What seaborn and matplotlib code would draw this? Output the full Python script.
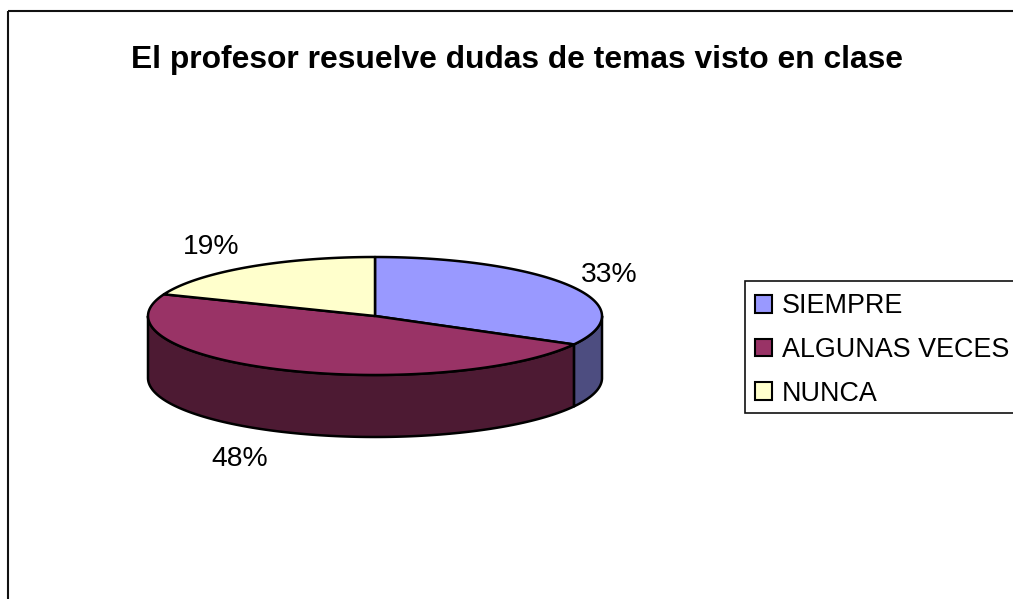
#%%
import numpy as np                           # for the ellipse arcs.
import seaborn as sns                        # for theme and palette.
import matplotlib
matplotlib.use("Agg")
import matplotlib.pyplot as plt
from matplotlib.patches import Patch, Rectangle

sns.set_theme(style = "white")
plt.rcParams['font.family'] = ['Liberation Sans', 'DejaVu Sans']

#%%
# The chart data.
title = "El profesor resuelve dudas de temas visto en clase"
categories = ["SIEMPRE", "ALGUNAS VECES", "NUNCA"]
values = [33, 48, 19]
top_colors = sns.color_palette(["#9999FF", "#993366", "#FFFFCC"])
side_colors = sns.color_palette(["#4D4D80", "#4D1A33", "#808066"])

#%%
# Layout in pixels of the 1013x599 picture.
cx, cy = 375, 316      # centre of the top ellipse.
rx, ry = 227, 59       # radii of the top ellipse.
depth = 62             # height of the pie wall.
label_pos = [(609, 275), (240, 459), (211, 247)]
edge = "black"
lw = 1.8

def arc(t0, t1):
    '''Points on the top ellipse, t in degrees clockwise from 12 o'clock.'''
    t = np.radians(np.linspace(t0, t1, 120))
    return cx + rx * np.sin(t), cy - ry * np.cos(t)

fig = plt.figure(figsize = (10.13, 5.99), dpi = 100)
ax = fig.add_axes([0, 0, 1, 1])
ax.set_xlim(0, 1013)
ax.set_ylim(599, 0)
ax.axis("off")

# Chart border, runs off the right and bottom of the picture.
ax.add_patch(Rectangle((8, 11), 1100, 700, fill = False, ec = "#111111", lw = 1.5))

#%%
# Slices start at 12 o'clock and go clockwise.
angles = np.cumsum([0] + values) / sum(values) * 360

# Walls first: only the front half of the ellipse (90 to 270) shows one.
for i in range(len(values)):
    t0, t1 = max(angles[i], 90), min(angles[i + 1], 270)
    if t0 >= t1:
        continue
    x, y = arc(t0, t1)
    ax.fill(
        np.r_[x, x[::-1]],
        np.r_[y, y[::-1] + depth],
        fc = side_colors[i], ec = edge, lw = lw, joinstyle = "round"
    )

# Then the top faces.
for i in range(len(values)):
    x, y = arc(angles[i], angles[i + 1])
    ax.fill(
        np.r_[cx, x],
        np.r_[cy, y],
        fc = top_colors[i], ec = edge, lw = lw, joinstyle = "round"
    )

#%%
for v, (lx, ly) in zip(values, label_pos):
    ax.text(lx, ly, str(v) + "%", ha = "center", va = "center",
            fontsize = 20.3, color = "black")

ax.text(517, 60, title, ha = "center", va = "center",
        fontsize = 22.9, fontweight = "bold", color = "black")

#%%
# Legend box is drawn on its own, it runs off the right side too.
ax.add_patch(Rectangle((745, 281), 400, 132, fc = "white", ec = "#111111", lw = 1.2))

handles = [
    Patch(fc = c, ec = "black", lw = 1.5, label = n)
    for c, n in zip(top_colors, categories)
]
leg = ax.legend(
    handles = handles,
    loc = "upper left",
    bbox_to_anchor = (745 / 1013, 1 - 283 / 599),
    bbox_transform = ax.transAxes,
    borderaxespad = 0,
    fontsize = 19.4,
    labelcolor = "black",
    frameon = False,
    handlelength = 0.64,
    handleheight = 0.64,
    handletextpad = 0.36,
    labelspacing = 0.66,
    borderpad = 0.38,
)

plt.savefig("out.png", dpi = 100)
